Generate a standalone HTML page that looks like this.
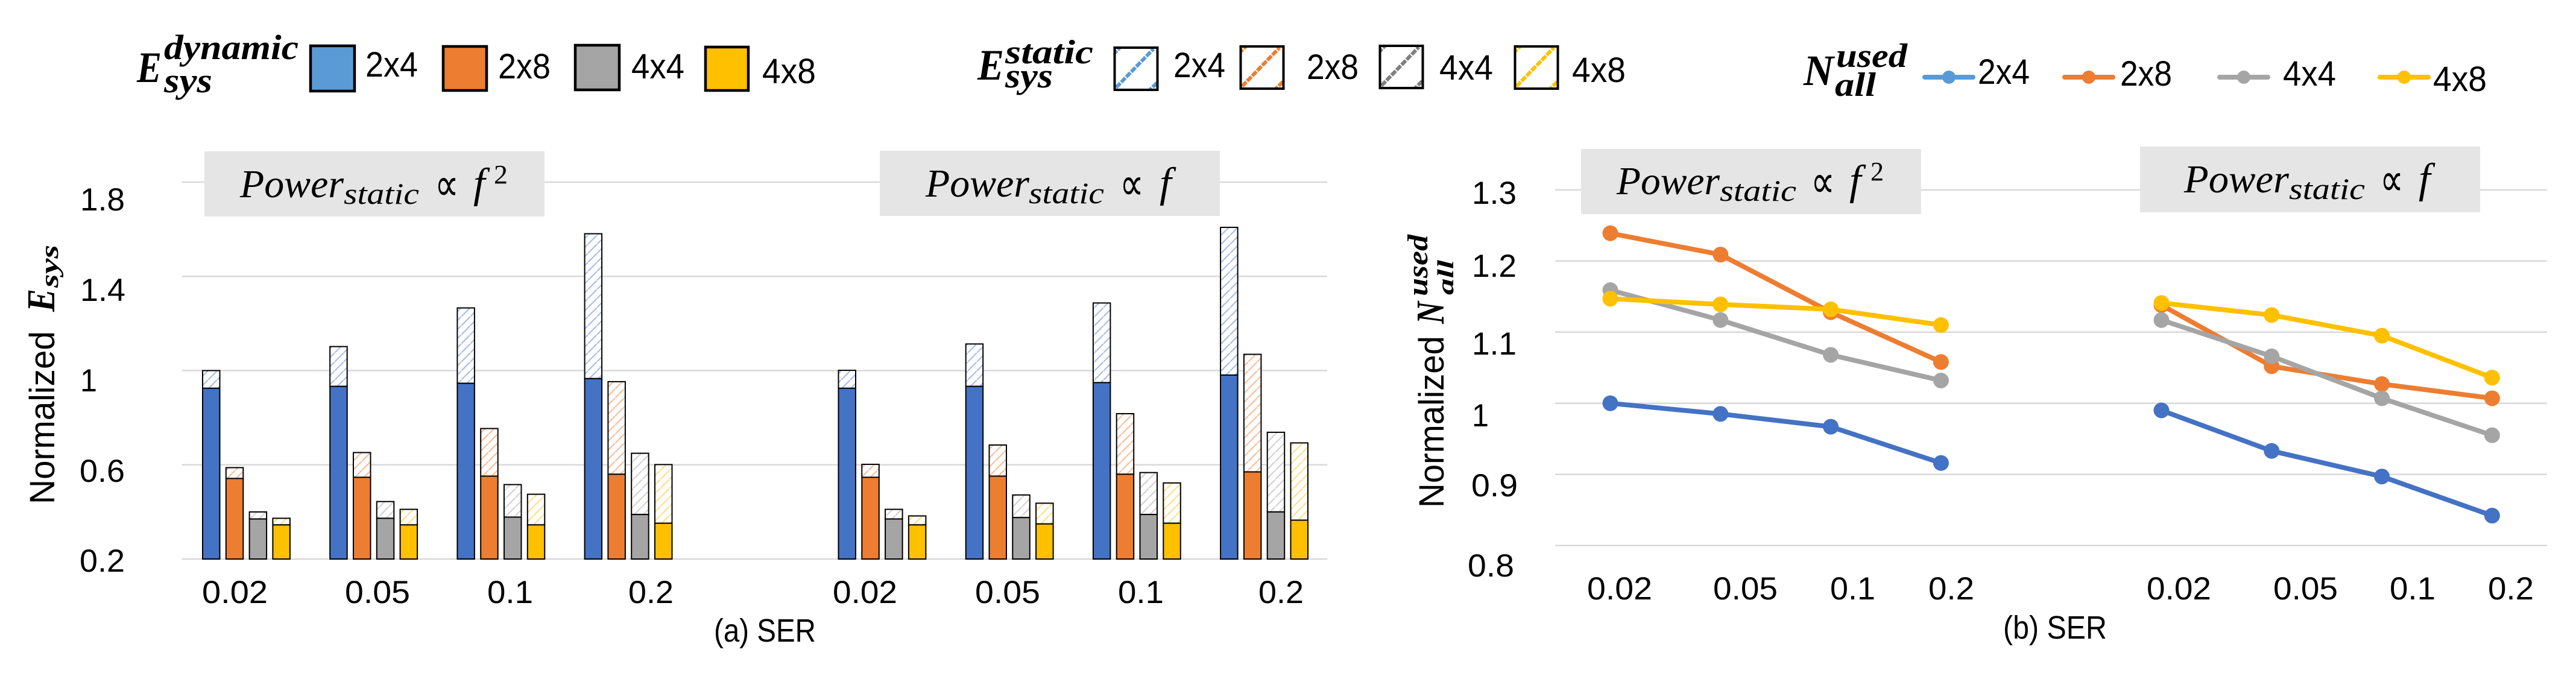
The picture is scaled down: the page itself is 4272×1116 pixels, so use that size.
<!DOCTYPE html>
<html lang="en">
<head>
<meta charset="utf-8">
<title>Normalized system energy and used nodes versus SER</title>
<style>
html,body{margin:0;padding:0;background:#fff;}
svg{display:block;}
.sans{font-family:"Liberation Sans",sans-serif;fill:#000;}
.math{font-family:"Liberation Serif","DejaVu Serif",serif;font-style:italic;fill:#000;}
.mathb{font-family:"Liberation Serif","DejaVu Serif",serif;font-style:italic;font-weight:bold;fill:#000;}
.prop{font-family:"DejaVu Sans",sans-serif;fill:#000;}
.tick{font-size:53px;}
.leg{font-size:58px;}
</style>
</head>
<body>
<svg id="chart" xmlns="http://www.w3.org/2000/svg" width="4272" height="1116" viewBox="0 0 4272 1116">
<defs>
  <pattern id="h-blue" patternUnits="userSpaceOnUse" width="15" height="15"><rect width="15" height="15" fill="#fff"/><path d="M-2,17 L17,-2" stroke="#A9BEE6" stroke-width="2.2"/></pattern>
  <pattern id="h-orange" patternUnits="userSpaceOnUse" width="15" height="15"><rect width="15" height="15" fill="#fff"/><path d="M-2,17 L17,-2" stroke="#F8BD9C" stroke-width="2.2"/></pattern>
  <pattern id="h-gray" patternUnits="userSpaceOnUse" width="15" height="15"><rect width="15" height="15" fill="#fff"/><path d="M-2,17 L17,-2" stroke="#D2D2D2" stroke-width="2.2"/></pattern>
  <pattern id="h-yellow" patternUnits="userSpaceOnUse" width="15" height="15"><rect width="15" height="15" fill="#fff"/><path d="M-2,17 L17,-2" stroke="#FFDF85" stroke-width="2.2"/></pattern>
  <clipPath id="sw-clip"><rect x="0" y="0" width="74" height="74"/></clipPath>
  <g id="hatch-swatch">
    <g clip-path="url(#sw-clip)" stroke="currentColor" stroke-width="6" stroke-dasharray="10 2" fill="none">
      <path d="M4,68 L66,4"/><path d="M-2,14 L14,-2"/><path d="M56,76 L76,56"/>
    </g>
    <rect x="1.5" y="2" width="71" height="70" fill="none" stroke="#000" stroke-width="4"/>
  </g>
</defs>

<!-- legend: dynamic energy -->
<g>
  <text class="mathb" x="227" y="136" font-size="72" textLength="41" lengthAdjust="spacingAndGlyphs">E</text>
  <text class="mathb" x="272" y="98" font-size="58" textLength="223" lengthAdjust="spacingAndGlyphs">dynamic</text>
  <text class="mathb" x="272" y="153" font-size="58" textLength="80" lengthAdjust="spacingAndGlyphs">sys</text>
  <rect x="515" y="76" width="73" height="75" fill="#5B9BD5" stroke="#000" stroke-width="4.5"/>
  <text class="sans leg" x="606" y="127" textLength="87" lengthAdjust="spacingAndGlyphs">2x4</text>
  <rect x="735" y="77" width="72" height="73" fill="#ED7D31" stroke="#000" stroke-width="4.5"/>
  <text class="sans leg" x="826" y="130" textLength="87" lengthAdjust="spacingAndGlyphs">2x8</text>
  <rect x="954" y="75" width="73" height="74" fill="#A5A5A5" stroke="#000" stroke-width="4.5"/>
  <text class="sans leg" x="1047" y="130" textLength="88" lengthAdjust="spacingAndGlyphs">4x4</text>
  <rect x="1170" y="78" width="71" height="72" fill="#FFC000" stroke="#000" stroke-width="4.5"/>
  <text class="sans leg" x="1264" y="138" textLength="89" lengthAdjust="spacingAndGlyphs">4x8</text>
</g>

<!-- legend: static energy -->
<g>
  <text class="mathb" x="1621" y="132" font-size="72" textLength="44" lengthAdjust="spacingAndGlyphs">E</text>
  <text class="mathb" x="1667" y="105" font-size="56" textLength="146" lengthAdjust="spacingAndGlyphs">static</text>
  <text class="mathb" x="1667" y="145" font-size="58" textLength="79" lengthAdjust="spacingAndGlyphs">sys</text>
  <use href="#hatch-swatch" x="1847" y="77" color="#5B9BD5"/>
  <text class="sans leg" x="1946" y="128" textLength="86" lengthAdjust="spacingAndGlyphs">2x4</text>
  <use href="#hatch-swatch" x="2056" y="75" color="#ED7D31"/>
  <text class="sans leg" x="2167" y="131" textLength="86" lengthAdjust="spacingAndGlyphs">2x8</text>
  <use href="#hatch-swatch" x="2287" y="74" color="#7F7F7F"/>
  <text class="sans leg" x="2387" y="132" textLength="89" lengthAdjust="spacingAndGlyphs">4x4</text>
  <use href="#hatch-swatch" x="2511" y="75" color="#FFC000"/>
  <text class="sans leg" x="2607" y="136" textLength="89" lengthAdjust="spacingAndGlyphs">4x8</text>
</g>

<!-- legend: used nodes -->
<g>
  <text class="mathb" x="2991" y="141" font-size="72" textLength="50" lengthAdjust="spacingAndGlyphs">N</text>
  <text class="mathb" x="3045" y="111" font-size="56" textLength="118" lengthAdjust="spacingAndGlyphs">used</text>
  <text class="mathb" x="3043" y="159" font-size="56" textLength="68" lengthAdjust="spacingAndGlyphs">all</text>
  <g><line x1="3192" y1="128" x2="3272" y2="128" stroke="#5B9BD5" stroke-width="8" stroke-linecap="round"/><circle cx="3232" cy="128" r="11" fill="#5B9BD5"/></g>
  <text class="sans leg" x="3280" y="139" textLength="86" lengthAdjust="spacingAndGlyphs">2x4</text>
  <g><line x1="3424" y1="128" x2="3504" y2="128" stroke="#ED7D31" stroke-width="8" stroke-linecap="round"/><circle cx="3464" cy="128" r="11" fill="#ED7D31"/></g>
  <text class="sans leg" x="3516" y="142" textLength="86" lengthAdjust="spacingAndGlyphs">2x8</text>
  <g><line x1="3681" y1="128" x2="3761" y2="128" stroke="#A5A5A5" stroke-width="8" stroke-linecap="round"/><circle cx="3721" cy="128" r="11" fill="#A5A5A5"/></g>
  <text class="sans leg" x="3786" y="142" textLength="88" lengthAdjust="spacingAndGlyphs">4x4</text>
  <g><line x1="3947" y1="128" x2="4027" y2="128" stroke="#FFC000" stroke-width="8" stroke-linecap="round"/><circle cx="3987" cy="128" r="11" fill="#FFC000"/></g>
  <text class="sans leg" x="4035" y="151" textLength="89" lengthAdjust="spacingAndGlyphs">4x8</text>
</g>

<g id="grid-layer"></g>

<!-- annotation boxes -->
<g>
  <rect x="339" y="251" width="564" height="108" fill="#E5E5E5"/>
  <text class="math" x="398" y="327" font-size="66" textLength="172" lengthAdjust="spacingAndGlyphs">Power</text>
  <text class="math" x="570" y="338" font-size="50" textLength="125" lengthAdjust="spacingAndGlyphs">static</text>
  <text class="prop" x="721" y="332" font-size="76" textLength="40" lengthAdjust="spacingAndGlyphs">∝</text>
  <text class="math" x="785" y="327" font-size="70">f</text>
  <text class="math" style="font-style:normal" x="819" y="304" font-size="44" textLength="23" lengthAdjust="spacingAndGlyphs">2</text>
</g>
<g>
  <rect x="1459" y="250" width="564" height="108" fill="#E5E5E5"/>
  <text class="math" x="1535" y="326" font-size="66" textLength="172" lengthAdjust="spacingAndGlyphs">Power</text>
  <text class="math" x="1706" y="337" font-size="50" textLength="125" lengthAdjust="spacingAndGlyphs">static</text>
  <text class="prop" x="1857" y="331" font-size="76" textLength="40" lengthAdjust="spacingAndGlyphs">∝</text>
  <text class="math" x="1923" y="326" font-size="70">f</text>
</g>
<g>
  <rect x="2622" y="247" width="564" height="108" fill="#E5E5E5"/>
  <text class="math" x="2681" y="322" font-size="66" textLength="171" lengthAdjust="spacingAndGlyphs">Power</text>
  <text class="math" x="2852" y="333" font-size="50" textLength="127" lengthAdjust="spacingAndGlyphs">static</text>
  <text class="prop" x="3003" y="327" font-size="76" textLength="40" lengthAdjust="spacingAndGlyphs">∝</text>
  <text class="math" x="3067" y="322" font-size="70">f</text>
  <text class="math" style="font-style:normal" x="3102" y="299" font-size="44" textLength="22" lengthAdjust="spacingAndGlyphs">2</text>
</g>
<g>
  <rect x="3549" y="243" width="564" height="109" fill="#E5E5E5"/>
  <text class="math" x="3622" y="319" font-size="66" textLength="174" lengthAdjust="spacingAndGlyphs">Power</text>
  <text class="math" x="3796" y="330" font-size="50" textLength="126" lengthAdjust="spacingAndGlyphs">static</text>
  <text class="prop" x="3947" y="324" font-size="76" textLength="39" lengthAdjust="spacingAndGlyphs">∝</text>
  <text class="math" x="4011" y="319" font-size="70">f</text>
</g>

<g id="bars-layer"></g>
<g id="lines-layer"></g>

<!-- energy chart axis text -->
<g>
  <text class="sans tick" x="133" y="349" textLength="74" lengthAdjust="spacingAndGlyphs">1.8</text>
  <text class="sans tick" x="133" y="499" textLength="75" lengthAdjust="spacingAndGlyphs">1.4</text>
  <text class="sans tick" x="133" y="649" textLength="28" lengthAdjust="spacingAndGlyphs">1</text>
  <text class="sans tick" x="132" y="799" textLength="75" lengthAdjust="spacingAndGlyphs">0.6</text>
  <text class="sans tick" x="132" y="948" textLength="75" lengthAdjust="spacingAndGlyphs">0.2</text>
</g>
<g>
  <text class="sans tick" x="335" y="1000" textLength="109" lengthAdjust="spacingAndGlyphs">0.02</text>
  <text class="sans tick" x="572" y="1000" textLength="108" lengthAdjust="spacingAndGlyphs">0.05</text>
  <text class="sans tick" x="808" y="1000" textLength="76" lengthAdjust="spacingAndGlyphs">0.1</text>
  <text class="sans tick" x="1042" y="1000" textLength="75" lengthAdjust="spacingAndGlyphs">0.2</text>
  <text class="sans tick" x="1381" y="1000" textLength="107" lengthAdjust="spacingAndGlyphs">0.02</text>
  <text class="sans tick" x="1617" y="1000" textLength="108" lengthAdjust="spacingAndGlyphs">0.05</text>
  <text class="sans tick" x="1854" y="1000" textLength="76" lengthAdjust="spacingAndGlyphs">0.1</text>
  <text class="sans tick" x="2087" y="1000" textLength="75" lengthAdjust="spacingAndGlyphs">0.2</text>
</g>
<text class="sans" x="1184" y="1064" font-size="54" textLength="169" lengthAdjust="spacingAndGlyphs">(a) SER</text>
<g>
  <text class="sans" transform="rotate(-90 90 836)" x="90" y="836" font-size="58" textLength="287" lengthAdjust="spacingAndGlyphs">Normalized</text>
  <text class="mathb" transform="rotate(-90 90 517)" x="90" y="517" font-size="66" textLength="38" lengthAdjust="spacingAndGlyphs">E</text>
  <text class="mathb" transform="rotate(-90 96 477)" x="96" y="477" font-size="42" textLength="71" lengthAdjust="spacingAndGlyphs">sys</text>
</g>

<!-- used chart axis text -->
<g>
  <text class="sans tick" x="2441" y="338" textLength="74" lengthAdjust="spacingAndGlyphs">1.3</text>
  <text class="sans tick" x="2441" y="459" textLength="74" lengthAdjust="spacingAndGlyphs">1.2</text>
  <text class="sans tick" x="2441" y="588" textLength="74" lengthAdjust="spacingAndGlyphs">1.1</text>
  <text class="sans tick" x="2441" y="707" textLength="28" lengthAdjust="spacingAndGlyphs">1</text>
  <text class="sans tick" x="2440" y="823" textLength="77" lengthAdjust="spacingAndGlyphs">0.9</text>
  <text class="sans tick" x="2434" y="956" textLength="77" lengthAdjust="spacingAndGlyphs">0.8</text>
</g>
<g>
  <text class="sans tick" x="2632" y="994" textLength="108" lengthAdjust="spacingAndGlyphs">0.02</text>
  <text class="sans tick" x="2841" y="994" textLength="107" lengthAdjust="spacingAndGlyphs">0.05</text>
  <text class="sans tick" x="3035" y="994" textLength="75" lengthAdjust="spacingAndGlyphs">0.1</text>
  <text class="sans tick" x="3198" y="994" textLength="76" lengthAdjust="spacingAndGlyphs">0.2</text>
  <text class="sans tick" x="3560" y="994" textLength="107" lengthAdjust="spacingAndGlyphs">0.02</text>
  <text class="sans tick" x="3770" y="994" textLength="107" lengthAdjust="spacingAndGlyphs">0.05</text>
  <text class="sans tick" x="3963" y="994" textLength="76" lengthAdjust="spacingAndGlyphs">0.1</text>
  <text class="sans tick" x="4126" y="994" textLength="76" lengthAdjust="spacingAndGlyphs">0.2</text>
</g>
<text class="sans" x="3322" y="1059" font-size="54" textLength="172" lengthAdjust="spacingAndGlyphs">(b) SER</text>
<g>
  <text class="sans" transform="rotate(-90 2394 842)" x="2394" y="842" font-size="58" textLength="285" lengthAdjust="spacingAndGlyphs">Normalized</text>
  <text class="mathb" transform="rotate(-90 2394 537)" x="2394" y="537" font-size="66" textLength="37" lengthAdjust="spacingAndGlyphs">N</text>
  <text class="mathb" transform="rotate(-90 2367 491)" x="2367" y="491" font-size="48" textLength="102" lengthAdjust="spacingAndGlyphs">used</text>
  <text class="mathb" transform="rotate(-90 2410 489)" x="2410" y="489" font-size="38" textLength="58" lengthAdjust="spacingAndGlyphs">all</text>
</g>
</svg>

<script>
// Axis ticks
const energyTicks = [0.2, 0.6, 1, 1.4, 1.8];
const usedTicks = [0.8, 0.9, 1, 1.1, 1.2, 1.3];

// Categories (SER) and mesh configurations
const serCategories = ['0.02', '0.05', '0.1', '0.2'];
const configs = ['2x4', '2x8', '4x4', '4x8'];

// Energy, Power_static proportional to f^2: dynamic part
const dynF2_2x4 = [0.925, 0.933, 0.946, 0.966];
const dynF2_2x8 = [0.542, 0.547, 0.552, 0.560];
const dynF2_4x4 = [0.370, 0.373, 0.378, 0.389];
const dynF2_4x8 = [0.345, 0.345, 0.345, 0.352];
// Energy, Power_static proportional to f^2: static part
const statF2_2x4 = [0.075, 0.169, 0.320, 0.615];
const statF2_2x8 = [0.046, 0.105, 0.202, 0.393];
const statF2_4x4 = [0.030, 0.071, 0.138, 0.260];
const statF2_4x8 = [0.028, 0.066, 0.130, 0.249];

// Energy, Power_static proportional to f: dynamic part
const dynF1_2x4 = [0.925, 0.933, 0.949, 0.981];
const dynF1_2x8 = [0.547, 0.552, 0.560, 0.570];
const dynF1_4x4 = [0.370, 0.376, 0.389, 0.400];
const dynF1_4x8 = [0.345, 0.349, 0.352, 0.365];
// Energy, Power_static proportional to f: static part
const statF1_2x4 = [0.076, 0.180, 0.338, 0.627];
const statF1_2x8 = [0.055, 0.132, 0.257, 0.499];
const statF1_4x4 = [0.041, 0.096, 0.178, 0.338];
const statF1_4x8 = [0.038, 0.088, 0.171, 0.328];

// Used nodes, f^2
const usedF2_2x4 = [1.000, 0.985, 0.967, 0.916];
const usedF2_2x8 = [1.239, 1.209, 1.128, 1.058];
const usedF2_4x4 = [1.159, 1.117, 1.068, 1.032];
const usedF2_4x8 = [1.147, 1.139, 1.132, 1.110];

// Used nodes, f
const usedF1_2x4 = [0.990, 0.933, 0.897, 0.842];
const usedF1_2x8 = [1.138, 1.052, 1.027, 1.007];
const usedF1_4x4 = [1.117, 1.066, 1.007, 0.955];
const usedF1_4x8 = [1.141, 1.124, 1.095, 1.036];

const NS = 'http://www.w3.org/2000/svg';
const fills = ['#4472C4', '#ED7D31', '#A5A5A5', '#FFC000'];
const hatches = ['url(#h-blue)', 'url(#h-orange)', 'url(#h-gray)', 'url(#h-yellow)'];

// Axis functions
function yEnergy(v) { return 927 - (v - 0.2) * 390.6; }
function yUsed(v) { return 904.6 - (v - 0.8) * 1179.5; }
function xBar(panelStart, cat, series) { return panelStart + cat * 211.2 + series * 38.8; }
function xUsed(panelStart, cat) { return panelStart + cat * 182.8; }

function gridLine(layer, x1, x2, y) {
  const l = document.createElementNS(NS, 'line');
  
  
  l.setAttribute('x1', x1);
  l.setAttribute('x2', x2);
  l.setAttribute('y1', y);
  l.setAttribute('y2', y);
  l.setAttribute('stroke', '#D9D9D9');
  l.setAttribute('stroke-width', '2.5');
  layer.appendChild(l);
}

function barRect(layer, x, top, bottom, fill) {
  const r = document.createElementNS(NS, 'rect');
  
  
  r.setAttribute('x', x + 1);
  r.setAttribute('y', top);
  r.setAttribute('width', 28.5);
  r.setAttribute('height', Math.max(0, bottom - top));
  r.setAttribute('fill', fill);
  r.setAttribute('stroke', '#000');
  r.setAttribute('stroke-width', '2');
  layer.appendChild(r);
}

function drawBars(layer, panelStart, dynSeries, statSeries) {
  serCategories.forEach(function (_, c) {
    configs.forEach(function (_, s) {
      const x = xBar(panelStart, c, s);
      const d = dynSeries[s][c];
      const t = d + statSeries[s][c];
      barRect(layer, x, yEnergy(t), yEnergy(d), hatches[s]);
      barRect(layer, x, yEnergy(d), yEnergy(0.2), fills[s]);
    });
  });
}

function drawLines(layer, panelStart, series) {
  series.forEach(function (vals, s) {
    const pl = document.createElementNS(NS, 'polyline');
    
    
    pl.setAttribute('fill', 'none');
    pl.setAttribute('stroke', fills[s]);
    pl.setAttribute('stroke-width', '8');
    pl.setAttribute('stroke-linejoin', 'round');
    pl.setAttribute('points', vals.map(function (v, c) { return xUsed(panelStart, c) + ',' + yUsed(v); }).join(' '));
    layer.appendChild(pl);
    vals.forEach(function (v, c) {
      const m = document.createElementNS(NS, 'circle');
      
      
      m.setAttribute('cx', xUsed(panelStart, c));
      m.setAttribute('cy', yUsed(v));
      m.setAttribute('r', '13');
      m.setAttribute('fill', fills[s]);
      layer.appendChild(m);
    });
  });
}

const gridLayer = document.getElementById('grid-layer');
energyTicks.forEach(function (t) { gridLine(gridLayer, 301.5, 2201, yEnergy(t)); });
usedTicks.forEach(function (t) { gridLine(gridLayer, 2579, 4224, yUsed(t)); });

const barsLayer = document.getElementById('bars-layer');
drawBars(barsLayer, 335, [dynF2_2x4, dynF2_2x8, dynF2_4x4, dynF2_4x8], [statF2_2x4, statF2_2x8, statF2_4x4, statF2_4x8]);
drawBars(barsLayer, 1389.5, [dynF1_2x4, dynF1_2x8, dynF1_4x4, dynF1_4x8], [statF1_2x4, statF1_2x8, statF1_4x4, statF1_4x8]);

const linesLayer = document.getElementById('lines-layer');
drawLines(linesLayer, 2670.5, [usedF2_2x4, usedF2_2x8, usedF2_4x4, usedF2_4x8]);
drawLines(linesLayer, 3584.5, [usedF1_2x4, usedF1_2x8, usedF1_4x4, usedF1_4x8]);
</script>
</body>
</html>
